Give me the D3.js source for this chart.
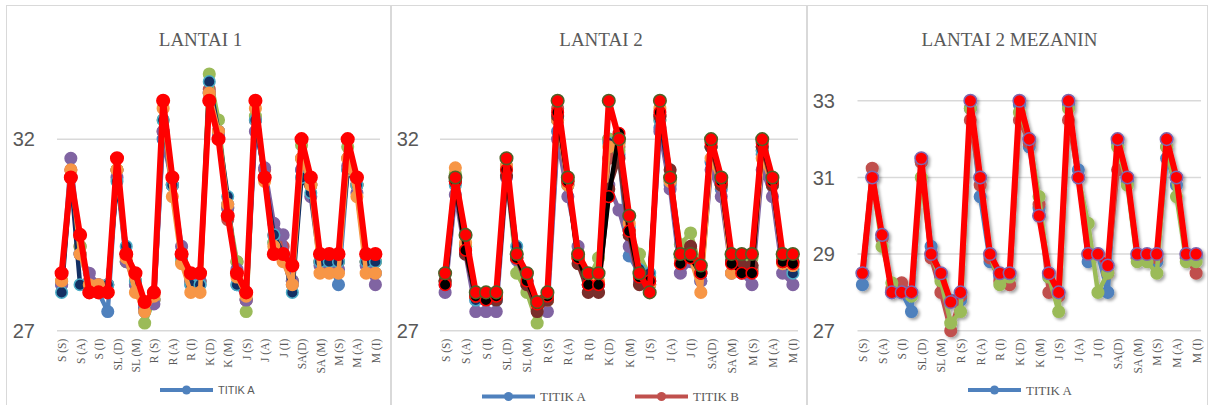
<!DOCTYPE html>
<html>
<head>
<meta charset="utf-8">
<script src="https://cdn.jsdelivr.net/npm/d3@7"></script>
<style>
  body { margin: 0; background: #fff; }
  svg { display: block; }
</style>
</head>
<body>
<div id="chart"></div>
<script>
// categories: day (S, SL, R, K, J, SA, M) x time (S, D, A, M, I)
var categories = [
  "S (S)", "S (D)", "S (A)", "S (M)", "S (I)",
  "SL (S)", "SL (D)", "SL (A)", "SL (M)", "SL (I)",
  "R (S)", "R (D)", "R (A)", "R (M)", "R (I)",
  "K (S)", "K (D)", "K (A)", "K (M)", "K (I)",
  "J (S)", "J (D)", "J (A)", "J (M)", "J (I)",
  "SA (S)", "SA(D)", "SA (A)", "SA (M)", "SA (I)",
  "M (S)", "M (D)", "M (A)", "M (M)", "M (I)"
];
var tickLabels = categories.filter(function(d, i) { return i % 2 == 0; });
var yTicksLantai = [27, 32];
var yTicksMezanin = [27, 29, 31, 33];

// the red line, same in all three charts
var redLine = [28.5, 31.0, 29.5, 28.0, 28.0, 28.0, 31.5, 29.0, 28.5, 27.75, 28.0, 33.0, 31.0, 29.0, 28.5, 28.5, 33.0, 32.0, 30.0, 28.5, 28.0, 33.0, 31.0, 29.0, 29.0, 28.7, 32.0, 31.0, 29.0, 29.0, 29.0, 32.0, 31.0, 29.0, 29.0];

// LANTAI 1
var l1A = [28.2, 31.0, 29.0, 28.2, 28.0, 27.5, 31.2, 29.0, 28.2, 27.5, 27.8, 32.0, 30.8, 29.0, 28.2, 28.2, 33.2, 32.2, 30.3, 28.2, 27.8, 32.5, 31.0, 29.3, 29.0, 28.2, 31.2, 30.8, 28.8, 28.8, 28.2, 31.2, 30.8, 28.8, 28.5];
var l1B = [28.3, 31.2, 29.2, 28.3, 28.2, 28.2, 31.2, 29.0, 28.3, 27.6, 27.8, 32.2, 30.8, 29.0, 28.3, 28.3, 33.3, 32.2, 29.9, 28.8, 27.8, 32.5, 31.2, 29.5, 29.2, 28.3, 31.5, 30.8, 28.8, 28.8, 28.8, 31.5, 30.8, 28.8, 28.8];
var l1C = [28.3, 31.0, 29.2, 28.2, 28.0, 28.0, 31.2, 28.8, 28.3, 27.2, 27.8, 32.5, 30.8, 28.8, 28.3, 28.3, 33.7, 32.5, 30.2, 28.8, 27.5, 32.6, 31.0, 29.3, 29.0, 28.3, 31.85, 30.8, 28.8, 28.8, 28.8, 31.8, 30.8, 28.8, 28.8];
var l1D = [28.2, 31.5, 29.0, 28.5, 28.2, 28.2, 31.0, 28.8, 28.2, 27.6, 27.7, 32.2, 30.8, 29.2, 28.3, 28.3, 33.2, 32.1, 30.2, 28.6, 27.8, 32.2, 31.25, 29.8, 29.5, 28.3, 31.2, 30.5, 28.7, 28.7, 28.6, 31.3, 30.6, 28.7, 28.2];
var l1E = [28.0, 31.0, 28.2, 28.0, 28.0, 28.2, 30.9, 29.2, 28.3, 27.7, 28.0, 32.5, 30.8, 28.9, 28.2, 28.2, 33.5, 32.2, 30.5, 28.2, 28.0, 32.5, 31.0, 29.5, 29.0, 28.0, 31.0, 30.6, 28.8, 28.8, 28.8, 31.2, 30.8, 28.8, 28.8];
var l1F = [28.3, 31.2, 29.0, 28.2, 28.2, 28.0, 31.2, 28.9, 28.0, 27.5, 27.9, 32.8, 30.5, 28.75, 28.0, 28.0, 33.2, 32.2, 30.3, 28.4, 27.9, 32.8, 30.9, 29.2, 28.8, 28.2, 31.5, 30.8, 28.5, 28.5, 28.5, 31.5, 30.5, 28.5, 28.5];

// LANTAI 2
var l2A = [28.2, 30.9, 29.2, 27.8, 27.8, 27.8, 31.2, 29.0, 28.3, 27.6, 27.8, 32.2, 30.8, 28.9, 28.2, 28.2, 32.0, 31.6, 28.95, 28.5, 28.3, 32.3, 30.8, 28.9, 29.0, 28.3, 31.4, 30.7, 28.8, 28.7, 28.6, 31.6, 30.8, 28.8, 28.6];
var l2B = [28.3, 31.0, 29.2, 27.9, 27.9, 27.9, 31.3, 28.9, 28.3, 27.6, 27.8, 32.8, 30.9, 28.9, 28.2, 28.2, 31.5, 31.8, 29.5, 28.4, 28.2, 32.6, 31.0, 29.0, 29.0, 28.5, 31.8, 30.9, 28.8, 28.8, 28.7, 31.8, 30.9, 28.9, 28.8];
var l2C = [28.3, 31.1, 29.2, 27.9, 27.9, 27.9, 31.2, 28.5, 28.0, 27.2, 27.8, 32.5, 30.9, 28.9, 28.3, 28.9, 32.0, 31.7, 29.6, 29.0, 28.4, 32.5, 30.9, 29.25, 29.55, 28.6, 31.8, 30.8, 28.9, 28.9, 28.9, 31.7, 30.8, 28.9, 28.8];
var l2D = [28.0, 30.55, 29.0, 27.5, 27.5, 27.5, 31.0, 28.85, 28.2, 27.6, 27.5, 32.0, 30.5, 29.2, 28.2, 28.2, 30.8, 30.15, 29.2, 28.3, 28.2, 32.2, 30.7, 28.5, 28.8, 28.3, 31.2, 30.5, 28.5, 28.5, 28.2, 31.2, 30.5, 28.5, 28.2];
var l2E = [28.3, 30.8, 29.1, 27.8, 27.8, 27.8, 31.25, 29.2, 28.3, 27.7, 27.9, 32.5, 30.8, 29.0, 28.3, 28.2, 31.9, 31.9, 29.7, 28.6, 28.5, 32.5, 30.9, 28.9, 29.0, 28.5, 31.8, 30.9, 28.8, 28.7, 28.6, 31.7, 30.9, 28.8, 28.5];
var l2F = [28.3, 31.25, 29.3, 27.9, 27.9, 28.0, 31.3, 28.9, 28.2, 27.6, 27.8, 32.5, 30.8, 28.9, 28.3, 28.3, 31.8, 31.9, 29.8, 28.4, 28.2, 32.8, 30.9, 28.9, 28.9, 28.0, 31.5, 30.8, 28.5, 28.6, 28.6, 31.5, 30.8, 28.75, 28.7];
var l2G = [28.3, 30.9, 29.0, 27.9, 27.9, 27.8, 31.05, 28.9, 28.2, 27.5, 27.8, 32.6, 30.9, 28.75, 28.0, 28.0, 30.7, 31.5, 29.5, 28.2, 28.3, 32.6, 31.2, 29.0, 29.2, 28.5, 31.8, 30.8, 28.8, 28.7, 28.7, 31.8, 30.8, 28.8, 28.8];
var l2H = [28.2, 30.9, 29.1, 27.9, 27.8, 27.9, 31.2, 28.9, 28.3, 27.7, 27.9, 32.7, 30.9, 28.9, 28.2, 28.2, 30.5, 32.15, 29.6, 28.4, 28.3, 32.7, 31.0, 28.75, 28.9, 28.5, 31.9, 30.9, 28.75, 28.5, 28.5, 31.9, 30.9, 28.8, 28.75];

// LANTAI 2 MEZANIN
var l3A = [28.2, 31.0, 29.4, 28.0, 28.0, 27.5, 31.4, 29.2, 28.4, 27.8, 27.8, 32.8, 30.5, 28.8, 28.4, 28.4, 32.9, 31.8, 30.2, 28.4, 28.0, 32.9, 31.2, 28.8, 29.0, 28.0, 31.9, 30.9, 28.9, 28.9, 28.8, 31.5, 30.8, 28.9, 28.9];
var l3B = [28.5, 31.24, 29.4, 28.1, 28.25, 28.0, 31.4, 28.9, 28.0, 27.0, 27.9, 32.5, 30.8, 28.9, 28.3, 28.2, 32.5, 31.9, 30.3, 28.0, 27.9, 32.5, 31.0, 29.0, 29.0, 28.5, 31.2, 31.0, 28.9, 28.9, 28.9, 31.8, 31.0, 28.9, 28.5];
var l3C = [28.5, 31.0, 29.2, 28.25, 28.0, 27.9, 31.0, 29.0, 28.3, 27.2, 27.5, 32.8, 31.0, 29.0, 28.2, 28.4, 32.7, 32.0, 30.5, 28.4, 27.5, 32.8, 31.0, 29.8, 28.0, 28.5, 31.8, 30.8, 28.8, 28.8, 28.5, 31.8, 30.5, 28.8, 28.8];

var BLUE = "#4F81BD", BRICK = "#C0504D", GREEN = "#9BBB59", PURPLE = "#8064A2",
    AQUA = "#4BACC6", NAVY = "#132F63", ORANGE = "#F79646", BROWN = "#7A2E2B", RED = "#FF0000";
var SERIF = "'Liberation Serif', 'DejaVu Serif', serif";
var SANS = "'Liberation Sans', Arial, sans-serif";

var panels = [
  {
    title: "LANTAI 1", box: [6.5, 390.5], x0: 57, x1: 380, yTicks: yTicksLantai, tickX: 35,
    series: [
      {name: "TITIK A", values: l1A, line: BLUE, fill: BLUE, ring: BLUE},
      {name: "TITIK B", values: l1B, line: BRICK, fill: BRICK, ring: BRICK},
      {name: "TITIK C", values: l1C, line: GREEN, fill: GREEN, ring: GREEN},
      {name: "TITIK D", values: l1D, line: PURPLE, fill: PURPLE, ring: PURPLE},
      {name: "TITIK E", values: l1E, line: NAVY, fill: NAVY, ring: AQUA},
      {name: "TITIK F", values: l1F, line: ORANGE, fill: ORANGE, ring: ORANGE},
      {name: "TITIK G", values: redLine, line: RED, fill: RED, ring: RED, top: true}
    ],
    legend: [{name: "TITIK A", color: BLUE, x: 160, y: 390}], legendFont: SANS, legendSize: 11
  },
  {
    title: "LANTAI 2", box: [391.5, 806.5], x0: 440, x1: 798, yTicks: yTicksLantai, tickX: 419,
    series: [
      {name: "TITIK A", values: l2A, line: BLUE, fill: BLUE, ring: BLUE},
      {name: "TITIK B", values: l2B, line: BRICK, fill: BRICK, ring: BRICK},
      {name: "TITIK C", values: l2C, line: GREEN, fill: GREEN, ring: GREEN},
      {name: "TITIK D", values: l2D, line: PURPLE, fill: PURPLE, ring: PURPLE},
      {name: "TITIK E", values: l2E, line: NAVY, fill: NAVY, ring: AQUA},
      {name: "TITIK F", values: l2F, line: ORANGE, fill: ORANGE, ring: ORANGE},
      {name: "TITIK G", values: l2G, line: BROWN, fill: BROWN, ring: BROWN},
      {name: "TITIK H", values: l2H, line: "#000", fill: "#000", ring: RED},
      {name: "TITIK I", values: redLine, line: RED, fill: RED, ring: "#4F6228", top: true}
    ],
    legend: [{name: "TITIK A", color: BLUE, x: 482, y: 396.5}, {name: "TITIK B", color: BRICK, x: 635, y: 396.5}],
    legendFont: SERIF, legendSize: 13
  },
  {
    title: "LANTAI 2 MEZANIN", box: [807.5, 1207.5], x0: 857.5, x1: 1201, yTicks: yTicksMezanin, tickX: 835,
    series: [
      {name: "TITIK A", values: l3A, line: BLUE, fill: BLUE, ring: BLUE},
      {name: "TITIK B", values: l3B, line: BRICK, fill: BRICK, ring: BRICK},
      {name: "TITIK C", values: l3C, line: GREEN, fill: GREEN, ring: GREEN},
      {name: "TITIK D", values: redLine, line: RED, fill: RED, ring: "#7E67B0", top: true}
    ],
    legend: [{name: "TITIK A", color: BLUE, x: 968, y: 390}], legendFont: SERIF, legendSize: 13,
    shadow: true
  }
];

var svg = d3.select("#chart")
    .append("svg")
    .attr("width", 1209)
    .attr("height", 405);

var defs = svg.append("defs");
defs.append("filter")
    .attr("id", "shade")
    .attr("x", "-20%").attr("y", "-20%").attr("width", "140%").attr("height", "140%")
    .append("feDropShadow")
    .attr("dx", 2).attr("dy", 2).attr("stdDeviation", 1.8)
    .attr("flood-color", "#000").attr("flood-opacity", 0.35);

var y = d3.scaleLinear().domain([27, 34]).range([330.7, 62.5]);

panels.forEach(function(p) {
    var g = svg.append("g");

    // chart frame
    g.append("rect")
        .attr("x", p.box[0]).attr("y", 5.5)
        .attr("width", p.box[1] - p.box[0]).attr("height", 410)
        .attr("fill", "#fff").attr("stroke", "#D9D9D9").attr("stroke-width", 1);

    g.append("text")
        .attr("x", (p.box[0] + p.box[1]) / 2 + 2)
        .attr("y", 46)
        .attr("text-anchor", "middle")
        .style("font-family", SERIF)
        .style("font-size", "19px")
        .attr("fill", "#595959")
        .text(p.title);

    var x = d3.scalePoint().domain(categories).range([p.x0, p.x1]).padding(0.5);

    // gridlines + value labels
    p.yTicks.forEach(function(t) {
        g.append("line")
            .attr("x1", p.x0).attr("x2", p.x1)
            .attr("y1", y(t)).attr("y2", y(t))
            .attr("stroke", "#D9D9D9").attr("stroke-width", 1.5);
        g.append("text")
            .attr("x", p.tickX).attr("y", y(t))
            .attr("dy", "0.36em")
            .attr("text-anchor", "end")
            .style("font-family", SANS)
            .style("font-size", "20px")
            .attr("fill", "#595959")
            .text(t);
    });

    // category axis
    var xAxis = g.append("g")
        .attr("transform", "translate(0," + y(27) + ")")
        .call(d3.axisBottom(x).tickValues(tickLabels).tickSize(0));
    xAxis.select(".domain").remove();
    xAxis.selectAll("text")
        .attr("transform", "rotate(-90)")
        .attr("x", -8).attr("y", 0).attr("dy", "0.35em")
        .style("text-anchor", "end")
        .style("font-family", SERIF)
        .style("font-size", "11.5px")
        .attr("fill", "#595959");

    var line = d3.line()
        .x(function(d, i) { return x(categories[i]); })
        .y(function(d) { return y(d); });

    var plot = g.append("g");
    if (p.shadow) plot.attr("filter", "url(#shade)");

    p.series.forEach(function(s) {
        var sg = plot.append("g");
        sg.append("path")
            .datum(s.values)
            .attr("d", line)
            .attr("fill", "none")
            .attr("stroke", s.line)
            .attr("stroke-width", s.top ? 6 : 4.5)
            .attr("stroke-linejoin", "round");
        sg.selectAll("circle")
            .data(s.values)
            .enter()
            .append("circle")
            .attr("cx", function(d, i) { return x(categories[i]); })
            .attr("cy", function(d) { return y(d); })
            .attr("r", s.top ? 6.3 : 5.8)
            .attr("fill", s.fill)
            .attr("stroke", s.ring)
            .attr("stroke-width", 1.5);
    });

    // legend (only the first entries fit)
    p.legend.forEach(function(l) {
        g.append("line")
            .attr("x1", l.x).attr("x2", l.x + 53)
            .attr("y1", l.y).attr("y2", l.y)
            .attr("stroke", l.color).attr("stroke-width", 4);
        g.append("circle")
            .attr("cx", l.x + 26.5).attr("cy", l.y).attr("r", 4.5)
            .attr("fill", l.color);
        g.append("text")
            .attr("x", l.x + 58).attr("y", l.y)
            .attr("dy", "0.36em")
            .style("font-family", p.legendFont)
            .style("font-size", p.legendSize + "px")
            .attr("fill", "#595959")
            .text(l.name);
    });
});
</script>
</body>
</html>
